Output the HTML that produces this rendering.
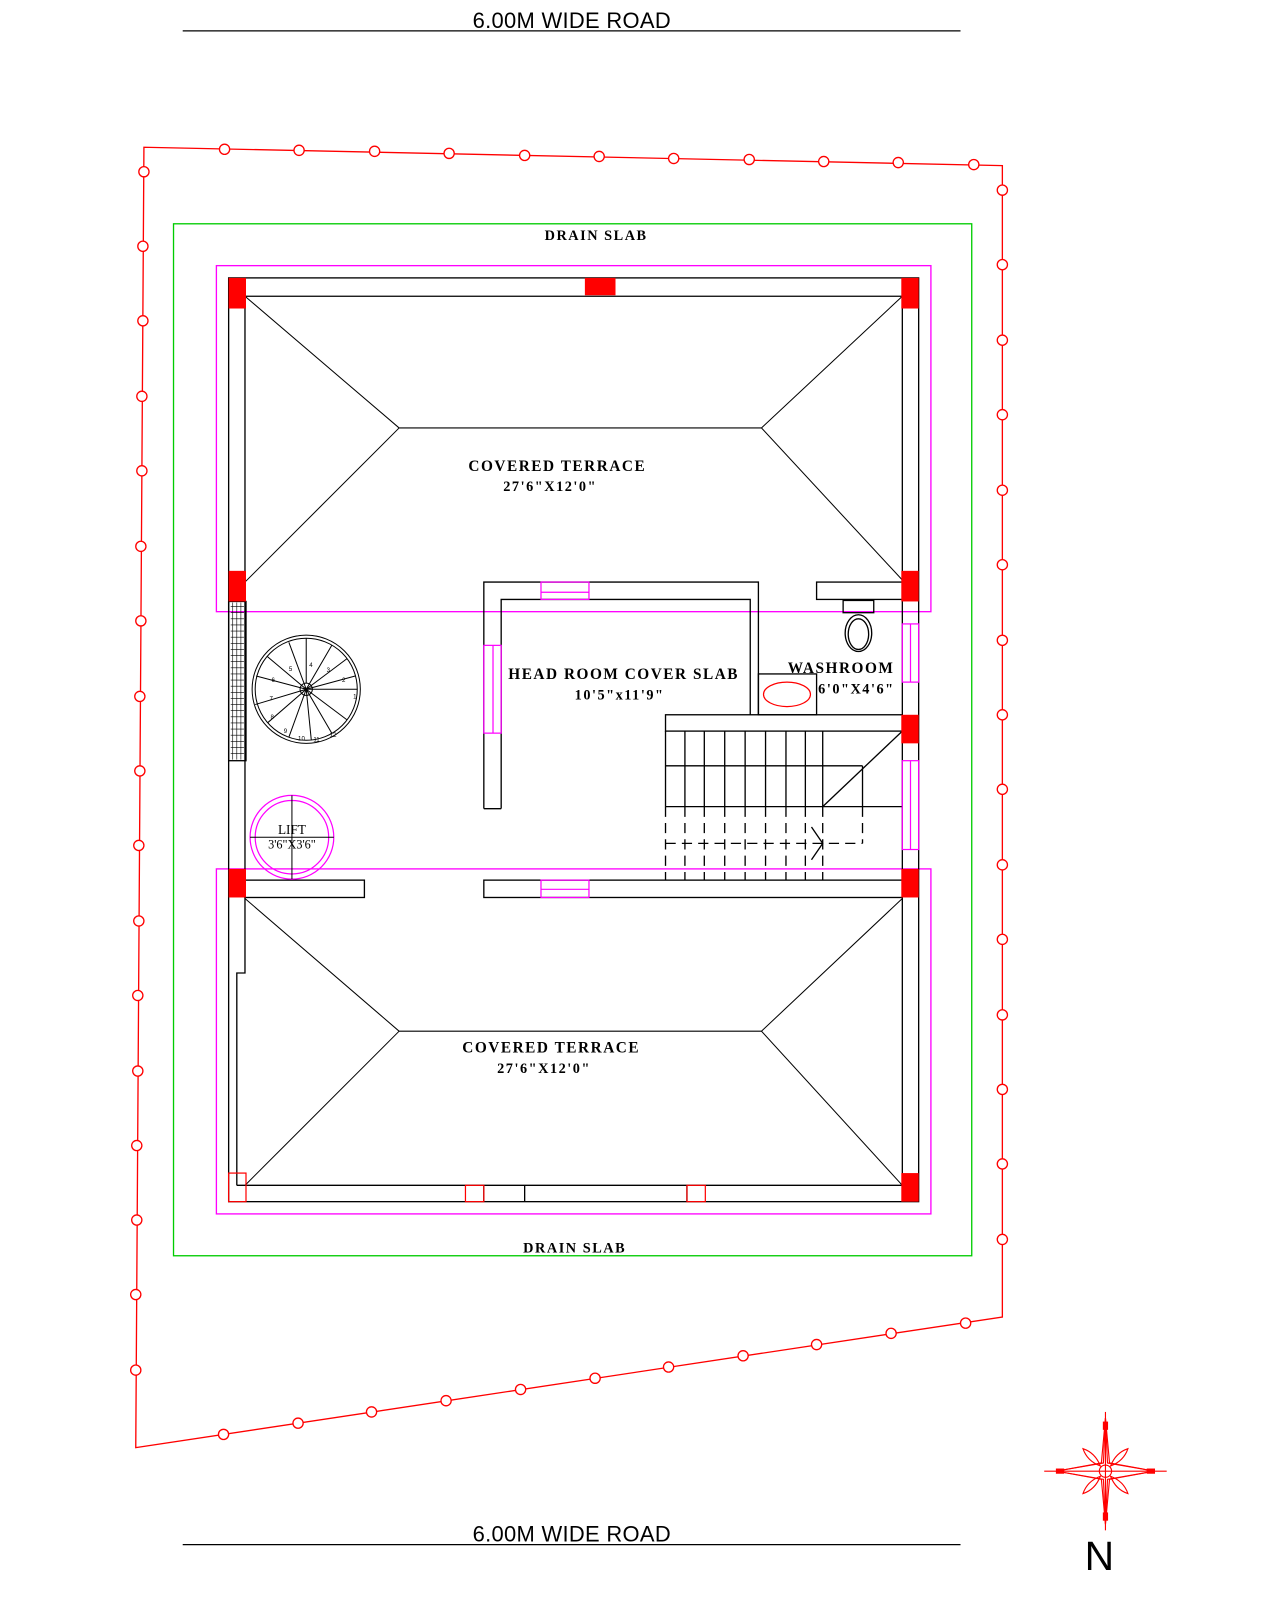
<!DOCTYPE html>
<html><head><meta charset="utf-8"><style>
html,body{margin:0;padding:0;background:#fff;width:1280px;height:1600px;overflow:hidden}
svg{display:block}
.t{font-family:"Liberation Serif",serif;font-weight:bold;letter-spacing:1.5px;fill:#000}
</style></head><body>
<svg width="1280" height="1600" viewBox="0 0 1254 1567" xmlns="http://www.w3.org/2000/svg">
<!-- roads -->
<text x="463" y="27" font-family="Liberation Sans,sans-serif" font-size="21.5" letter-spacing="0.3" fill="#000">6.00M WIDE ROAD</text>
<line x1="179" y1="30" x2="941" y2="30" stroke="#000" stroke-width="1.2"/>
<text x="463" y="1510" font-family="Liberation Sans,sans-serif" font-size="21.5" letter-spacing="0.3" fill="#000">6.00M WIDE ROAD</text>
<line x1="179" y1="1513" x2="941" y2="1513" stroke="#000" stroke-width="1.2"/>
<!-- boundary -->
<g stroke="#f00" stroke-width="1.3" fill="#fff">
<polygon points="141,144 982,162 982,1290 133,1418" fill="none"/>
<g>
<circle cx="220" cy="146" r="5"/><circle cx="293" cy="147" r="5"/><circle cx="367" cy="148" r="5"/><circle cx="440" cy="150" r="5"/><circle cx="514" cy="152" r="5"/><circle cx="587" cy="153" r="5"/><circle cx="660" cy="155" r="5"/><circle cx="734" cy="156" r="5"/><circle cx="807" cy="158" r="5"/><circle cx="880" cy="159" r="5"/><circle cx="954" cy="161" r="5"/>
<circle cx="141" cy="168" r="5"/><circle cx="140" cy="241" r="5"/><circle cx="140" cy="314" r="5"/><circle cx="139" cy="388" r="5"/><circle cx="139" cy="461" r="5"/><circle cx="138" cy="535" r="5"/><circle cx="138" cy="608" r="5"/><circle cx="137" cy="682" r="5"/><circle cx="137" cy="755" r="5"/><circle cx="136" cy="828" r="5"/><circle cx="136" cy="902" r="5"/><circle cx="135" cy="975" r="5"/><circle cx="135" cy="1049" r="5"/><circle cx="134" cy="1122" r="5"/><circle cx="134" cy="1195" r="5"/><circle cx="133" cy="1268" r="5"/><circle cx="133" cy="1342" r="5"/>
<circle cx="982" cy="186" r="5"/><circle cx="982" cy="259" r="5"/><circle cx="982" cy="333" r="5"/><circle cx="982" cy="406" r="5"/><circle cx="982" cy="480" r="5"/><circle cx="982" cy="553" r="5"/><circle cx="982" cy="627" r="5"/><circle cx="982" cy="700" r="5"/><circle cx="982" cy="773" r="5"/><circle cx="982" cy="847" r="5"/><circle cx="982" cy="920" r="5"/><circle cx="982" cy="994" r="5"/><circle cx="982" cy="1067" r="5"/><circle cx="982" cy="1140" r="5"/><circle cx="982" cy="1214" r="5"/>
<circle cx="219" cy="1405" r="5"/><circle cx="292" cy="1394" r="5"/><circle cx="364" cy="1383" r="5"/><circle cx="437" cy="1372" r="5"/><circle cx="510" cy="1361" r="5"/><circle cx="583" cy="1350" r="5"/><circle cx="655" cy="1339" r="5"/><circle cx="728" cy="1328" r="5"/><circle cx="800" cy="1317" r="5"/><circle cx="873" cy="1306" r="5"/><circle cx="946" cy="1296" r="5"/>
</g></g>
<!-- drain / slab outlines -->
<rect x="170" y="219" width="782" height="1011" fill="none" stroke="#0c0" stroke-width="1.3"/>
<text class="t" x="584" y="235" font-size="14" text-anchor="middle">DRAIN SLAB</text>
<text class="t" x="563" y="1227" font-size="14" text-anchor="middle">DRAIN SLAB</text>
<rect x="212" y="260" width="700" height="339" fill="none" stroke="#f0f" stroke-width="1.3"/>
<rect x="212" y="851" width="700" height="338" fill="none" stroke="#f0f" stroke-width="1.3"/>
<!-- walls -->
<g fill="none" stroke="#000" stroke-width="1.3">
<rect x="224" y="272" width="676" height="905"/>
<polyline points="232,1161 232,953 240,953 240,290 884,290 884,1161 232,1161"/>
<!-- hip roofs -->
<g stroke-width="1">
<polyline points="240,290 391,419 746,419 884,290"/><line x1="391" y1="419" x2="240" y2="570"/><line x1="746" y1="419" x2="884" y2="568"/>
<polyline points="240,880 391,1010 746,1010 884,880"/><line x1="391" y1="1010" x2="240" y2="1161"/><line x1="746" y1="1010" x2="884" y2="1161"/>
</g>
<!-- terrace lower walls -->
<rect x="240" y="862" width="117" height="17"/>
<rect x="474" y="862" width="410" height="17"/>
<line x1="474" y1="1161" x2="474" y2="1177"/><line x1="514" y1="1161" x2="514" y2="1177"/><line x1="673" y1="1161" x2="673" y2="1177"/>
<!-- head room -->
<polyline points="474,792 474,570 743,570 743,700"/>
<polyline points="491,792 491,587 735,587 735,700"/>
<line x1="474" y1="792" x2="491" y2="792"/>
<!-- washroom -->
<rect x="800" y="570" width="84" height="17"/>
<rect x="743" y="660" width="57" height="40"/>
<rect x="826" y="588" width="30" height="12"/>
<ellipse cx="841" cy="620" rx="13" ry="18"/><ellipse cx="841" cy="621" rx="10" ry="15"/>
<!-- stairs -->
<rect x="652" y="700" width="232" height="16"/>
<g>
<line x1="671" y1="716" x2="671" y2="790"/><line x1="690" y1="716" x2="690" y2="790"/><line x1="710" y1="716" x2="710" y2="790"/><line x1="730" y1="716" x2="730" y2="790"/><line x1="750" y1="716" x2="750" y2="790"/><line x1="770" y1="716" x2="770" y2="790"/><line x1="789" y1="716" x2="789" y2="790"/><line x1="806" y1="716" x2="806" y2="790"/>
<line x1="652" y1="716" x2="652" y2="790"/>
<line x1="652" y1="750" x2="845" y2="750"/><line x1="845" y1="750" x2="845" y2="790"/>
<line x1="652" y1="790" x2="884" y2="790"/><line x1="806" y1="790" x2="884" y2="716"/>
</g>
<g stroke-dasharray="10,6">
<line x1="652" y1="790" x2="652" y2="862"/><line x1="671" y1="790" x2="671" y2="862"/><line x1="690" y1="790" x2="690" y2="862"/><line x1="710" y1="790" x2="710" y2="862"/><line x1="730" y1="790" x2="730" y2="862"/><line x1="750" y1="790" x2="750" y2="862"/><line x1="770" y1="790" x2="770" y2="862"/><line x1="789" y1="790" x2="789" y2="862"/><line x1="806" y1="790" x2="806" y2="862"/>
<line x1="845" y1="790" x2="845" y2="826"/><line x1="652" y1="826" x2="845" y2="826"/>
</g>
<polyline points="795,810 806,826 795,842"/>
<!-- left wall grill -->
<rect x="224" y="589" width="17" height="156"/>
</g>
<g stroke="#000" stroke-width="0.6" fill="none">
<path d="M226 594 h13 M226 600 h13 M226 606 h13 M226 612 h13 M226 618 h13 M226 624 h13 M226 630 h13 M226 636 h13 M226 642 h13 M226 648 h13 M226 654 h13 M226 660 h13 M226 666 h13 M226 672 h13 M226 678 h13 M226 684 h13 M226 690 h13 M226 696 h13 M226 702 h13 M226 708 h13 M226 714 h13 M226 720 h13 M226 726 h13 M226 732 h13 M226 738 h13 M228 590 V744 M232 590 V744 M236 590 V744"/>
</g>
<!-- windows magenta -->
<g fill="none" stroke="#f0f" stroke-width="1.2">
<rect x="530" y="570" width="47" height="17"/><line x1="530" y1="580" x2="577" y2="580"/>
<rect x="530" y="862" width="47" height="17"/><line x1="530" y1="871" x2="577" y2="871"/>
<rect x="474" y="632" width="17" height="86"/><line x1="483" y1="632" x2="483" y2="718"/>
<rect x="884" y="611" width="16" height="57"/><line x1="892" y1="611" x2="892" y2="668"/>
<rect x="884" y="745" width="16" height="87"/><line x1="892" y1="745" x2="892" y2="832"/>
<circle cx="286" cy="820" r="41"/><circle cx="286" cy="820" r="36"/>
</g>
<ellipse cx="771" cy="680" rx="23" ry="12" fill="none" stroke="#f00" stroke-width="1.2"/>
<!-- red columns -->
<g fill="#f00">
<rect x="224" y="272" width="17" height="30"/><rect x="573" y="272" width="30" height="17"/><rect x="883" y="272" width="17" height="30"/>
<rect x="224" y="559" width="17" height="30"/><rect x="883" y="559" width="17" height="30"/>
<rect x="883" y="700" width="17" height="28"/>
<rect x="224" y="851" width="17" height="28"/><rect x="883" y="851" width="17" height="28"/>
<rect x="883" y="1149" width="17" height="28"/>
</g>
<g fill="none" stroke="#f00" stroke-width="1.2">
<rect x="224" y="1149" width="17" height="28"/><rect x="456" y="1161" width="18" height="16"/><rect x="673" y="1161" width="18" height="16"/>
</g>
<!-- spiral stair -->
<g stroke="#000" stroke-width="1" fill="none">
<circle cx="300" cy="675" r="53"/><circle cx="300" cy="675" r="50"/>
<circle cx="300" cy="675" r="6"/>
<g>
<line x1="300" y1="669" x2="300" y2="625"/>
<line x1="300" y1="675" x2="325" y2="632"/><line x1="300" y1="675" x2="340" y2="645"/><line x1="300" y1="675" x2="348" y2="662"/><line x1="300" y1="675" x2="350" y2="675"/><line x1="300" y1="675" x2="340" y2="705"/><line x1="300" y1="675" x2="325" y2="718"/><line x1="300" y1="675" x2="305" y2="725"/><line x1="300" y1="675" x2="283" y2="722"/><line x1="300" y1="675" x2="262" y2="708"/><line x1="300" y1="675" x2="250" y2="690"/><line x1="300" y1="675" x2="251" y2="662"/><line x1="300" y1="675" x2="262" y2="643"/><line x1="300" y1="675" x2="283" y2="629"/>
</g>
</g>
<g font-family="Liberation Sans,sans-serif" font-size="6" fill="#000">
<text x="346" y="684">1</text><text x="335" y="668">2</text><text x="320" y="658">3</text><text x="303" y="653">4</text><text x="283" y="657">5</text><text x="266" y="668">6</text><text x="264" y="686">7</text><text x="265" y="704">8</text><text x="278" y="718">9</text><text x="292" y="725">10</text><text x="307" y="726">11</text><text x="323" y="722">12</text>
</g>
<!-- lift cross -->
<g stroke="#000" stroke-width="1"><line x1="286" y1="779" x2="286" y2="861"/><line x1="245" y1="820" x2="327" y2="820"/></g>
<!-- labels -->
<text class="t" x="546" y="461" font-size="15" text-anchor="middle">COVERED TERRACE</text>
<text class="t" x="539" y="481" font-size="14" text-anchor="middle">27'6"X12'0"</text>
<text class="t" x="540" y="1031" font-size="15" text-anchor="middle">COVERED TERRACE</text>
<text class="t" x="533" y="1051" font-size="14" text-anchor="middle">27'6"X12'0"</text>
<text class="t" x="611" y="665" font-size="15" text-anchor="middle">HEAD ROOM COVER SLAB</text>
<text class="t" x="607" y="685" font-size="14" text-anchor="middle">10'5"x11'9"</text>
<text class="t" x="824" y="659" font-size="15" text-anchor="middle">WASHROOM</text>
<text class="t" x="839" y="679" font-size="14" text-anchor="middle">6'0"X4'6"</text>
<text x="286" y="817" font-family="Liberation Serif,serif" font-size="13" text-anchor="middle">LIFT</text>
<text x="286" y="831" font-family="Liberation Serif,serif" font-size="12" text-anchor="middle">3'6"X3'6"</text>
<!-- compass -->
<g stroke="#f00" stroke-width="1.1" fill="none" transform="translate(1083,1441)">
<line x1="0" y1="-58" x2="0" y2="58"/><line x1="-60" y1="0" x2="60" y2="0"/>
<path d="M0 -52 L4 -8 L48 0 L4 8 L0 52 L-4 8 L-48 0 L-4 -8 Z"/>
<path d="M0 -52 L2 -8 L48 0 L2 8 L0 52 L-2 8 L-48 0 L-2 -8 Z"/>
<circle r="6"/>
<path d="M5 -5 Q10 -18 22 -22 Q18 -10 5 -5 Z M-5 -5 Q-10 -18 -22 -22 Q-18 -10 -5 -5 Z M5 5 Q10 18 22 22 Q18 10 5 5 Z M-5 5 Q-10 18 -22 22 Q-18 10 -5 5 Z"/>
<rect x="-2" y="-48" width="4" height="7" fill="#f00"/><rect x="-2" y="41" width="4" height="7" fill="#f00"/><rect x="-48" y="-2" width="7" height="4" fill="#f00"/><rect x="41" y="-2" width="7" height="4" fill="#f00"/>
</g>
<text x="1077" y="1538" font-family="Liberation Sans,sans-serif" font-size="40" text-anchor="middle" fill="#000">N</text>
</svg>
</body></html>
